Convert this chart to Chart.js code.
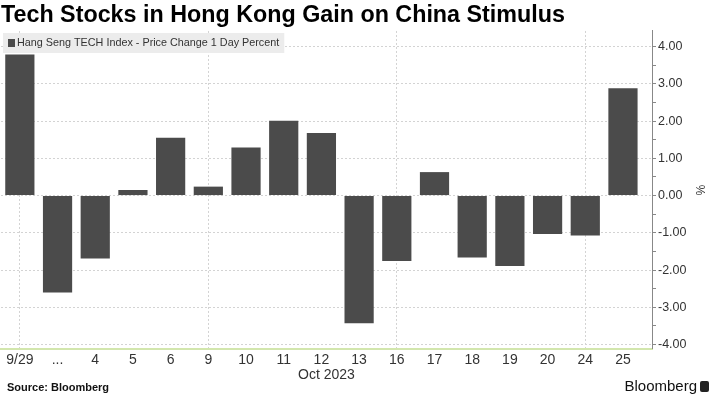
<!DOCTYPE html>
<html lang="en">
<head>
    <meta charset="UTF-8">
    <title>Tech Stocks in Hong Kong Gain on China Stimulus</title>
    <script src="https://cdn.jsdelivr.net/npm/chart.js"></script>
    <style>
        body { margin: 0; background: #fff; }
        .wrap { position: relative; width: 714px; height: 398px; }
        .source {
            position: absolute; left: 7px; top: 381px;
            font: bold 11px "Liberation Sans", Arial, sans-serif; color: #111;
        }
        .brand {
            position: absolute; right: 5px; top: 377px;
            font: 15px "Liberation Sans", Arial, sans-serif; color: #111;
        }
        .brand span {
            display: inline-block; width: 9px; height: 11px; background: #222;
            margin-left: 3px; vertical-align: -1px; border-radius: 2px;
        }
    </style>
</head>
<body>
<div class="wrap">
    <canvas id="chart" width="714" height="398"></canvas>
    <div class="source">Source: Bloomberg</div>
    <div class="brand">Bloomberg<span></span></div>
</div>

<script>
    // trading days, 9/29 then October 2023
    const dayLabels = ["9/29", "...", "4", "5", "6", "9", "10", "11", "12", "13", "16", "17", "18", "19", "20", "24", "25"];
    const pctChange = [3.79, -2.60, -1.69, 0.15, 1.55, 0.24, 1.29, 2.01, 1.68, -3.43, -1.76, 0.63, -1.66, -1.89, -1.03, -1.07, 2.88];
    const seriesName = "Hang Seng TECH Index - Price Change 1 Day Percent";

    const gridColor = "#d3d3d3";

    // legend drawn as a grey strip over the plot, like the original
    const legendStrip = {
        id: "legendStrip",
        afterDatasetsDraw(chart) {
            const ctx = chart.ctx;
            const ds = chart.data.datasets[0];
            ctx.save();
            ctx.font = "10.8px 'Liberation Sans', Arial, sans-serif";
            const w = ctx.measureText(ds.label).width;
            ctx.fillStyle = "#ececec";
            ctx.fillRect(3, 33, w + 19, 20);
            ctx.fillStyle = ds.backgroundColor;
            ctx.fillRect(8, 39, 7, 8);
            ctx.fillStyle = "#333";
            ctx.textBaseline = "middle";
            ctx.fillText(ds.label, 17, 43.5);
            ctx.restore();
        }
    };

    const ctx = document.getElementById("chart").getContext("2d");
    new Chart(ctx, {
        type: "bar",
        data: {
            datasets: [{
                label: seriesName,
                data: pctChange.map((v, i) => ({ x: i, y: v })),
                backgroundColor: "#4b4b4b",
                barPercentage: 1,
                categoryPercentage: 0.775
            }]
        },
        options: {
            responsive: false,
            animation: false,
            layout: { padding: { left: 1, right: 0, top: 0, bottom: 9 } },
            plugins: {
                legend: { display: false },
                tooltip: { enabled: false },
                title: {
                    display: true,
                    text: "Tech Stocks in Hong Kong Gain on China Stimulus",
                    align: "start",
                    color: "#000",
                    font: { family: "'Liberation Sans', Arial, sans-serif", size: 23.3, weight: "bold" },
                    padding: { top: 2, bottom: 1 }
                }
            },
            scales: {
                x: {
                    type: "linear",
                    min: -0.5,
                    max: 16.77,
                    offset: false,
                    afterFit(scale) { scale.height = 40; },
                    border: { display: true, color: "#d2e6ad", width: 2, dash: [2, 2] },
                    grid: {
                        offset: false,
                        drawTicks: false,
                        color: (c) => (c.tick && c.tick.value % 5 === 0) ? gridColor : "transparent"
                    },
                    ticks: {
                        stepSize: 1,
                        includeBounds: false,
                        autoSkip: false,
                        maxRotation: 0,
                        padding: 3,
                        color: "#333",
                        font: { family: "'Liberation Sans Narrow', 'Liberation Sans', Arial, sans-serif", size: 14 },
                        callback: (v) => dayLabels[v] ?? ""
                    },
                    title: {
                        display: true,
                        text: "Oct 2023",
                        color: "#333",
                        font: { family: "'Liberation Sans Narrow', 'Liberation Sans', Arial, sans-serif", size: 14 },
                        padding: { top: 0, bottom: 5 }
                    }
                },
                y: {
                    position: "right",
                    min: -4.12,
                    max: 4.42,
                    afterFit(scale) { scale.width = 62; },
                    border: { display: true, color: "#888", width: 1, dash: [2, 2] },
                    grid: {
                        tickLength: 4,
                        tickColor: "#888",
                        color: (c) => (c.tick && Number.isInteger(c.tick.value)) ? gridColor : "transparent"
                    },
                    ticks: {
                        stepSize: 0.5,
                        includeBounds: false,
                        autoSkip: false,
                        padding: 2,
                        color: "#333",
                        font: { family: "'Liberation Sans', Arial, sans-serif", size: 12.5 },
                        callback: (v) => Number.isInteger(v) ? v.toFixed(2) : ""
                    },
                    title: {
                        display: true,
                        text: "%",
                        color: "#333",
                        font: { family: "'Liberation Sans', Arial, sans-serif", size: 12 },
                        padding: { top: 7, bottom: 0 }
                    }
                }
            }
        },
        plugins: [legendStrip]
    });
</script>
</body>
</html>
